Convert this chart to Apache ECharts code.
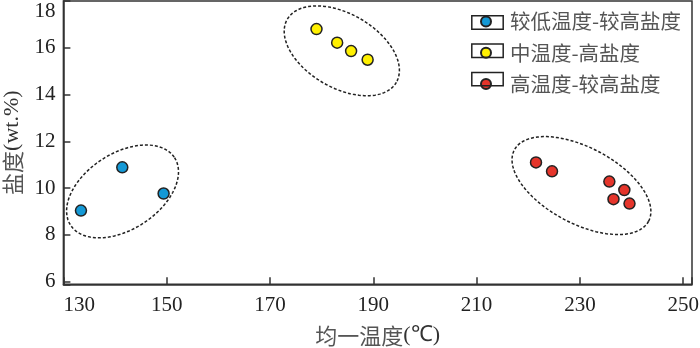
<!DOCTYPE html>
<html>
<head>
<meta charset="utf-8">
<script src="https://cdn.jsdelivr.net/npm/echarts@6/dist/echarts.min.js"></script>
<style>
  html, body { margin: 0; padding: 0; background: #fff; }
  #chart { width: 700px; height: 348px; }
</style>
</head>
<body>
<div id="chart"></div>
<script>
// 三组流体包裹体：均一温度(℃) vs 盐度(wt.%)
const groupNames = ['较低温度-较高盐度', '中温度-高盐度', '高温度-较高盐度']
const groupColors = ['#1499d6', '#fff000', '#e5352b']

const lowTemp = [[133.4, 9.04], [141.4, 10.89], [149.4, 9.77]]
const midTemp = [[179.0, 16.8], [183.0, 16.22], [185.7, 15.86], [188.9, 15.49]]
const highTemp = [
  [221.5, 11.1], [224.6, 10.72], [235.7, 10.28],
  [238.6, 9.92], [236.5, 9.53], [239.6, 9.34],
]

// 虚线椭圆：中心(数据坐标)，半轴(px)，旋转角(度)
const ellipseCenters = [[141.45, 9.86], [183.9, 15.87], [230.3, 10.11]]
const ellipseRadii = [[62, 38], [63, 37], [76, 38]]
const ellipseAngles = [-33, 30, 28]

const xTicks = { min: 130, max: 251.7, interval: 20 }
const yTicks = { min: 5.89, max: 18 }

const chart = echarts.init(document.getElementById('chart'))

const serif = '"Liberation Serif", "Times New Roman", serif'
const cjk = '"Noto Sans CJK SC", sans-serif'

const scatter = (name, data, color) => ({
  name,
  type: 'scatter',
  data,
  symbol: 'circle',
  symbolSize: 11,
  z: 5,
  itemStyle: { color, borderColor: '#222', borderWidth: 1.5, opacity: 1 },
})

const ellipseSeries = ellipseCenters.map((c, i) => ({
  type: 'custom',
  silent: true,
  z: 3,
  data: [c],
  renderItem: (params, api) => {
    const p = api.coord([api.value(0), api.value(1)])
    const [a, b] = ellipseRadii[i]
    const t = (ellipseAngles[i] * Math.PI) / 180
    const pts = []
    for (let k = 0; k < 120; k++) {
      const u = (k / 120) * Math.PI * 2
      const ex = a * Math.cos(u)
      const ey = b * Math.sin(u)
      pts.push([p[0] + ex * Math.cos(t) - ey * Math.sin(t), p[1] + ex * Math.sin(t) + ey * Math.cos(t)])
    }
    return {
      type: 'polygon',
      shape: { points: pts },
      style: { fill: 'none', stroke: '#222', lineWidth: 1.5, lineDash: [3, 2] },
    }
  },
}))

const option = {
  animation: false,
  backgroundColor: '#fff',
  grid: {
    left: 63.4,
    right: 8,
    top: 1,
    bottom: 63.7,
    containLabel: false,
    outerBoundsMode: 'none',
    show: true,
    borderColor: '#333',
    borderWidth: 1.5,
  },
  legend: {
    data: groupNames,
    orient: 'vertical',
    left: 480,
    top: 10,
    padding: 0,
    icon: 'circle',
    itemWidth: 10,
    itemHeight: 10,
    itemGap: 8.3,
    textStyle: {
      fontFamily: cjk,
      fontSize: 20.5,
      lineHeight: 20,
      color: '#555',
      padding: [3, 0, 0, 14],
    },
  },
  graphic: groupNames.map((n, i) => ({
    type: 'rect',
    left: 469.3,
    top: 13.3 + i * 28.3,
    z: 10,
    silent: true,
    shape: { width: 31.4, height: 13.4 },
    style: { fill: 'none', stroke: '#222', lineWidth: 1.5 },
  })),
  xAxis: {
    type: 'value',
    min: xTicks.min,
    max: xTicks.max,
    interval: xTicks.interval,
    name: '{c|均一温度}{l|(℃)}',
    nameLocation: 'middle',
    nameGap: 40,
    nameTextStyle: {
      rich: {
        c: { fontFamily: cjk, fontSize: 22, color: '#555' },
        l: { fontFamily: serif, fontSize: 22, color: '#333' },
      },
    },
    axisLine: { lineStyle: { color: '#333', width: 1.5 } },
    axisTick: { inside: true, length: 7, lineStyle: { color: '#333', width: 1.5 } },
    splitLine: { show: false },
    axisLabel: {
      fontFamily: serif,
      fontSize: 21,
      color: '#222',
      margin: 11,
      alignMinLabel: 'left',
      formatter: (v) => (Math.abs((v - 130) % 20) < 1e-6 ? String(v) : ''),
    },
  },
  yAxis: {
    type: 'value',
    min: yTicks.min,
    max: yTicks.max,
    name: '{c|盐度}{l|(wt.%)}',
    nameLocation: 'middle',
    nameRotate: 90,
    nameGap: 39,
    nameTextStyle: {
      rich: {
        c: { fontFamily: cjk, fontSize: 22, color: '#555' },
        l: { fontFamily: serif, fontSize: 22, color: '#333' },
      },
    },
    axisLine: { lineStyle: { color: '#333', width: 1.5 } },
    axisTick: { inside: true, length: 7, lineStyle: { color: '#333', width: 1.5 } },
    splitLine: { show: false },
    axisLabel: {
      fontFamily: serif,
      fontSize: 21,
      color: '#222',
      margin: 8,
      verticalAlignMaxLabel: 'top',
      formatter: (v) => (Number.isInteger(v) && v % 2 === 0 ? String(v) : ''),
    },
  },
  series: [
    ...ellipseSeries,
    scatter(groupNames[0], lowTemp, groupColors[0]),
    scatter(groupNames[1], midTemp, groupColors[1]),
    scatter(groupNames[2], highTemp, groupColors[2]),
  ],
}

chart.setOption(option)
</script>
</body>
</html>
